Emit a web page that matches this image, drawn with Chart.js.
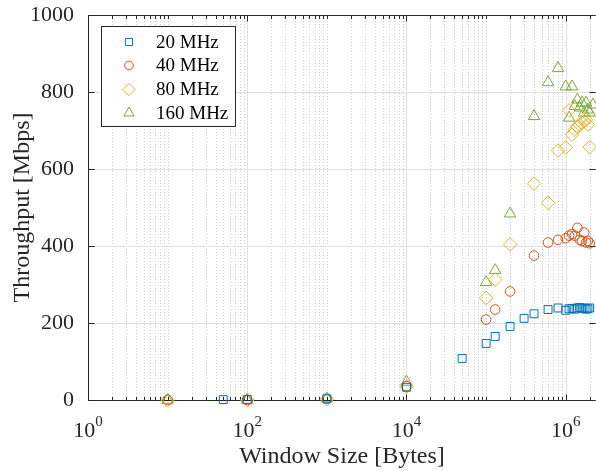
<!DOCTYPE html>
<html>
<head>
<meta charset="utf-8">
<script src="https://cdn.jsdelivr.net/npm/chart.js@4/dist/chart.umd.min.js"></script>
<style>
  body { margin: 0; background: #fff; }
</style>
</head>
<body>
<canvas id="myChart" width="596" height="471"></canvas>
<script>
// data
var seriesNames = ['20 MHz', '40 MHz', '80 MHz', '160 MHz'];

var x20 = [50, 100, 1000, 1e4, 5e4, 1e5, 1.3e5, 2e5, 3e5, 4e5, 6e5, 8e5, 1e6, 1.1e6, 1.2e6, 1.3e6, 1.4e6, 1.5e6, 1.6e6, 1.7e6, 1.8e6, 1.9e6, 2e6];
var y20 = [1, 1, 3, 33, 108, 147, 165, 191, 212, 224, 235, 239, 233, 237, 238, 236, 239, 240, 238, 239, 236, 237, 239];

var x40 = [10, 100, 1000, 1e4, 1e5, 1.3e5, 2e5, 4e5, 6e5, 8e5, 1e6, 1.1e6, 1.2e6, 1.3e6, 1.4e6, 1.5e6, 1.6e6, 1.7e6, 1.8e6, 1.9e6, 2e6];
var y40 = [0, 0, 3, 36, 209, 235, 282, 375, 409, 416, 420, 427, 431, 427, 447, 416, 413, 435, 409, 413, 407];

var x80 = [10, 100, 1000, 1e4, 1e5, 1.3e5, 2e5, 4e5, 6e5, 8e5, 1e6, 1.1e6, 1.2e6, 1.3e6, 1.4e6, 1.5e6, 1.6e6, 1.7e6, 1.8e6, 1.9e6, 2e6];
var y80 = [0, 0, 2, 35, 265, 313, 404, 562, 512, 648, 656, 752, 689, 702, 711, 715, 720, 724, 728, 715, 657];

var x160 = [10, 100, 1000, 1e4, 1e5, 1.3e5, 2e5, 4e5, 6e5, 8e5, 1e6, 1.1e6, 1.2e6, 1.3e6, 1.4e6, 1.5e6, 1.6e6, 1.7e6, 1.8e6, 1.9e6, 2e6, 2.2e6];
var y160 = [0, 0, 4, 47, 306, 337, 484, 737, 825, 862, 814, 733, 814, 763, 780, 759, 772, 746, 772, 754, 746, 767];

var xLabelPowers = [0, 2, 4, 6];
var yTicks = [0, 200, 400, 600, 800, 1000];

var colors = ['#0072BD', '#D95319', '#EDB120', '#77AC30'];
var styles = ['rect', 'circle', 'rectRot', 'triangle'];
var radii = [5.6, 4.8, 6.8, 6.6];
var serif = '"Liberation Serif", "Times New Roman", serif';
var axisColor = '#262626';

function pts(xs, ys) {
  return xs.map(function (v, i) { return { x: v, y: ys[i] }; });
}

var allX = [x20, x40, x80, x160];
var allY = [y20, y40, y80, y160];

var datasets = seriesNames.map(function (name, i) {
  return {
    label: name,
    data: pts(allX[i], allY[i]),
    showLine: false,
    pointStyle: styles[i],
    pointRadius: radii[i],
    pointBorderColor: colors[i],
    pointBackgroundColor: 'rgba(0,0,0,0)',
    pointBorderWidth: 1,
    clip: false
  };
});

function minorValues(max) {
  var out = [];
  for (var k = 0; k <= 7; k++) {
    for (var m = 1; m <= 9; m++) {
      var v = m * Math.pow(10, k);
      if (v <= max) out.push({ v: v, major: m === 1 && k % 2 === 0 });
    }
  }
  return out;
}

var gridPlugin = {
  id: 'matlabGrid',
  beforeDatasetsDraw: function (chart) {
    var ctx = chart.ctx, a = chart.chartArea;
    var xs = chart.scales.x, ys = chart.scales.y;
    ctx.save();
    ctx.lineWidth = 1;
    // dotted minor grid
    ctx.strokeStyle = '#cfcfcf';
    ctx.setLineDash([1, 2]);
    minorValues(xs.max).forEach(function (t) {
      if (t.major) return;
      var px = Math.round(xs.getPixelForValue(t.v)) + 0.5;
      ctx.beginPath(); ctx.moveTo(px, a.top); ctx.lineTo(px, a.bottom); ctx.stroke();
    });
    ctx.setLineDash([]);
    ctx.strokeStyle = '#e0e0e0';
    minorValues(xs.max).forEach(function (t) {
      if (!t.major) return;
      var px = Math.round(xs.getPixelForValue(t.v)) + 0.5;
      ctx.beginPath(); ctx.moveTo(px, a.top); ctx.lineTo(px, a.bottom); ctx.stroke();
    });
    yTicks.forEach(function (v) {
      var py = Math.round(ys.getPixelForValue(v)) + 0.5;
      ctx.beginPath(); ctx.moveTo(a.left, py); ctx.lineTo(a.right, py); ctx.stroke();
    });
    // frame and inward ticks
    ctx.strokeStyle = axisColor;
    var l = Math.round(a.left) + 0.5, t = Math.round(a.top) + 0.5;
    var b = Math.round(a.bottom) + 0.5, r = Math.round(a.right) - 0.5;
    ctx.beginPath();
    ctx.moveTo(r, t); ctx.lineTo(l, t); ctx.lineTo(l, b); ctx.lineTo(r, b);
    ctx.stroke();
    minorValues(xs.max).forEach(function (tk) {
      var px = Math.round(xs.getPixelForValue(tk.v)) + 0.5;
      var len = tk.major ? 6 : 3.5;
      ctx.beginPath();
      ctx.moveTo(px, b); ctx.lineTo(px, b - len);
      ctx.moveTo(px, t); ctx.lineTo(px, t + len);
      ctx.stroke();
    });
    yTicks.forEach(function (v) {
      var py = Math.round(ys.getPixelForValue(v)) + 0.5;
      ctx.beginPath();
      ctx.moveTo(l, py); ctx.lineTo(l + 6, py);
      ctx.moveTo(r, py); ctx.lineTo(r - 6, py);
      ctx.stroke();
    });
    // x tick labels 10^n
    ctx.fillStyle = axisColor;
    ctx.textBaseline = 'alphabetic';
    ctx.textAlign = 'left';
    xLabelPowers.forEach(function (p) {
      var px = xs.getPixelForValue(Math.pow(10, p));
      ctx.font = '22px ' + serif;
      var w1 = ctx.measureText('10').width;
      ctx.font = '15px ' + serif;
      var w2 = ctx.measureText(String(p)).width;
      var x0 = px - (w1 + w2) / 2;
      ctx.font = '22px ' + serif;
      ctx.fillText('10', x0, 437);
      ctx.font = '15px ' + serif;
      ctx.fillText(String(p), x0 + w1, 426);
    });
    ctx.restore();
  }
};

var legendPlugin = {
  id: 'boxLegend',
  afterDatasetsDraw: function (chart) {
    var ctx = chart.ctx;
    ctx.save();
    ctx.fillStyle = '#ffffff';
    ctx.fillRect(101, 26, 135, 101);
    ctx.strokeStyle = axisColor;
    ctx.lineWidth = 1;
    ctx.strokeRect(101.5, 26.5, 134, 100);
    var rows = [42, 65.5, 89.5, 113];
    chart.data.datasets.forEach(function (ds, i) {
      ctx.strokeStyle = ds.pointBorderColor;
      ctx.fillStyle = 'rgba(0,0,0,0)';
      ctx.lineWidth = 1;
      Chart.helpers.drawPoint(ctx, {
        pointStyle: ds.pointStyle,
        radius: ds.pointRadius * 0.9,
        rotation: 0,
        borderWidth: 1
      }, 129, rows[i]);
      ctx.fillStyle = '#000000';
      ctx.font = '19px ' + serif;
      ctx.textBaseline = 'middle';
      ctx.textAlign = 'left';
      ctx.fillText(ds.label, 156, rows[i] + 1);
    });
    ctx.restore();
  }
};

new Chart(document.getElementById('myChart'), {
  type: 'scatter',
  data: { datasets: datasets },
  plugins: [gridPlugin, legendPlugin],
  options: {
    responsive: false,
    animation: false,
    layout: { autoPadding: false, padding: { top: 15, right: 0, left: 0, bottom: 0 } },
    plugins: {
      legend: { display: false },
      tooltip: { enabled: false }
    },
    scales: {
      x: {
        type: 'logarithmic',
        min: 1,
        max: 2.4e6,
        grid: { display: false },
        border: { display: false },
        ticks: { display: false },
        title: {
          display: true,
          text: 'Window Size [Bytes]',
          color: axisColor,
          font: { family: serif, size: 24 },
          padding: { top: 0, bottom: 0 }
        },
        afterFit: function (scale) { scale.height = 71; scale.paddingLeft = 0; scale.paddingRight = 0; }
      },
      y: {
        min: 0,
        max: 1000,
        grid: { display: false },
        border: { display: false },
        afterBuildTicks: function (scale) {
          scale.ticks = yTicks.map(function (v) { return { value: v }; });
        },
        ticks: {
          color: axisColor,
          padding: 6,
          font: { family: serif, size: 22 },
          callback: function (v) { return String(v); }
        },
        title: {
          display: true,
          text: 'Throughput [Mbps]',
          color: axisColor,
          font: { family: serif, size: 24 },
          padding: { top: 8, bottom: 0 }
        },
        afterFit: function (scale) { scale.width = 88; scale.paddingTop = 0; scale.paddingBottom = 0; }
      }
    }
  }
});
</script>
</body>
</html>
